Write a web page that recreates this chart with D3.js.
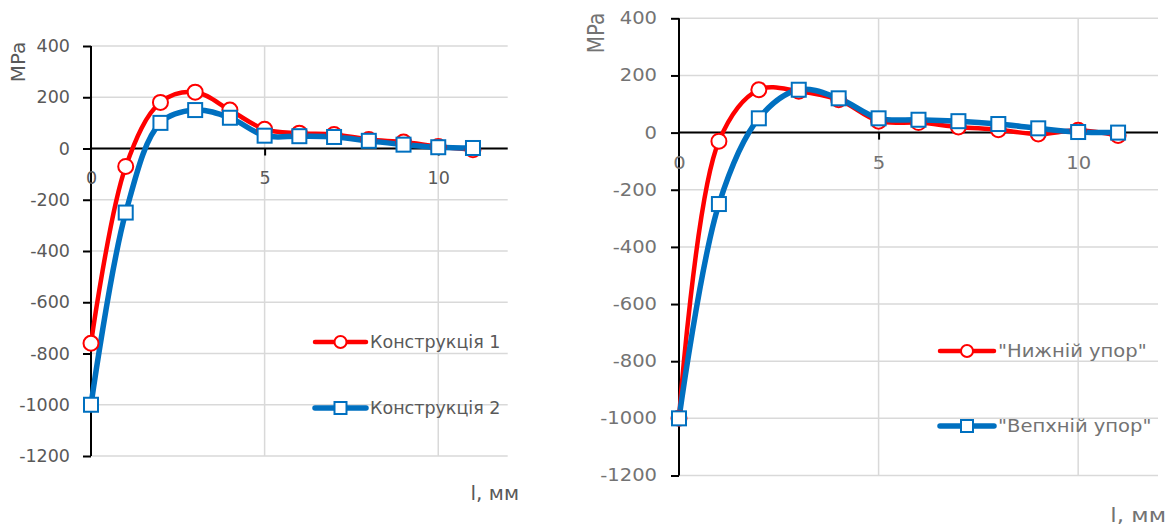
<!DOCTYPE html>
<html><head><meta charset="utf-8">
<script src="https://cdn.jsdelivr.net/npm/d3@7"></script>
<style>
html,body{margin:0;padding:0;background:#fff;}
svg{display:block;}
text{font-family:"DejaVu Sans",sans-serif;}
</style></head>
<body>
<script>
// ---- data ----
const xValues = [0,1,2,3,4,5,6,7,8,9,10,11];
const leftSeriesNames = ["Конструкція 1","Конструкція 2"];
const leftSeries1 = [-760,-70,180,220,150,75,60,55,35,25,8,-5];
const leftSeries2 = [-1000,-250,100,150,120,50,48,45,30,15,5,2];
const rightSeriesNames = ['"Нижній упор"','"Вепхній упор"'];
const rightSeries1 = [-1000,-30,150,145,115,40,35,20,10,-5,8,-10];
const rightSeries2 = [-1000,-250,50,150,120,50,45,40,30,15,2,0];
const yTicks = [-1200,-1000,-800,-600,-400,-200,0,200,400];
const xTickLabels = [0,5,10];
const yTitle = "MPa";
const xTitle = "l, мм";

const svg = d3.select("body").append("svg").attr("width",1173).attr("height",526);

function drawChart(cfg){
  const g = svg.append("g");
  const sx = cfg.sx || 1;
  const x = d3.scaleLinear().domain([0,12]).range([cfg.left,cfg.right]);
  const y = d3.scaleLinear().domain([-1200,400]).range([cfg.bottom,cfg.top]);
  const fmt = d => String(d);
  // gridlines
  g.selectAll(".hg").data(yTicks).enter().append("line")
    .attr("x1",cfg.left).attr("x2",cfg.right).attr("y1",d=>y(d)).attr("y2",d=>y(d))
    .attr("stroke","#d9d9d9").attr("stroke-width",1.5);
  g.selectAll(".vg").data(xTickLabels.filter(d=>d>0)).enter().append("line")
    .attr("x1",d=>x(d)).attr("x2",d=>x(d)).attr("y1",cfg.top).attr("y2",cfg.bottom)
    .attr("stroke","#d9d9d9").attr("stroke-width",1.5);
  // y axis
  const ya = g.append("g").attr("transform",`translate(${cfg.left},0)`)
    .call(d3.axisLeft(y).tickValues(yTicks).tickFormat(fmt).tickSize(8).tickPadding(cfg.ypad));
  ya.select(".domain").attr("stroke","#000").attr("stroke-width",2).attr("d",`M0,${cfg.top}V${cfg.bottom}`);
  ya.selectAll(".tick line").attr("stroke","#000").attr("stroke-width",2);
  ya.selectAll(".tick text").attr("fill",cfg.textColor).style("font-size",cfg.fs+"px")
    .attr("transform",`scale(${sx},1)`)
    .attr("x", -(8+cfg.ypad)/sx);
  // x axis at y=0
  const xa = g.append("g").attr("transform",`translate(0,${y(0)})`)
    .call(d3.axisBottom(x).tickValues(xTickLabels).tickFormat(fmt).tickSize(7).tickPadding(cfg.xpad));
  xa.select(".domain").attr("stroke","#000").attr("stroke-width",2).attr("d",`M${cfg.left},0H${cfg.right}`);
  xa.selectAll(".tick line").attr("stroke","#000").attr("stroke-width",2).attr("opacity",d=>d===0?0:1);
  xa.selectAll(".tick text").attr("fill",cfg.textColor).style("font-size",cfg.fs+"px")
    .attr("transform",`scale(${sx},1)`).attr("x",0);
  // lines
  const line = d3.line().x((d,i)=>x(xValues[i])).y(d=>y(d)).curve(d3.curveCatmullRom.alpha(0.5));
  const series = [
    {vals:cfg.s1,color:"#ff0000",w:4.5,shape:"circle"},
    {vals:cfg.s2,color:"#0070c0",w:5.5,shape:"square"}
  ];
  series.forEach(s=>{
    g.append("path").attr("d",line(s.vals)).attr("fill","none").attr("stroke",s.color)
      .attr("stroke-width",s.w).attr("stroke-linejoin","round");
  });
  function marker(sel,shape,color,size){
    if(shape==="circle"){
      sel.append("circle").attr("r",size/2).attr("fill","#fff").attr("stroke",color).attr("stroke-width",2);
    } else {
      sel.append("rect").attr("x",-size/2).attr("y",-size/2).attr("width",size).attr("height",size)
        .attr("fill","#fff").attr("stroke",color).attr("stroke-width",2);
    }
  }
  series.forEach(s=>{
    s.vals.forEach((v,i)=>{
      const m = g.append("g").attr("transform",`translate(${x(xValues[i])},${y(v)})`);
      marker(m,s.shape,s.color,s.shape==="circle"?cfg.msize:cfg.msize-1);
    });
  });
  // legend
  cfg.names.forEach((n,i)=>{
    const ly = cfg.legY[i];
    const s = series[i];
    g.append("line").attr("x1",cfg.legX).attr("x2",cfg.legX+cfg.legW).attr("y1",ly).attr("y2",ly)
      .attr("stroke",s.color).attr("stroke-width",s.w).attr("stroke-linecap","round");
    const m = g.append("g").attr("transform",`translate(${cfg.legX+cfg.legW/2},${ly})`);
    marker(m,s.shape,s.color,s.shape==="circle"?12:12);
    const tx = cfg.legX+cfg.legW+4;
    g.append("text").attr("x",0).attr("y",0).attr("dy","0.35em")
      .attr("fill",cfg.textColor).style("font-size",cfg.fs+"px")
      .attr("transform",`translate(${tx},${ly}) scale(${sx},1)`)
      .text(n);
  });
  // titles
  g.append("text").attr("transform",`translate(${cfg.yTitleX},${cfg.yTitleY}) rotate(-90) scale(1,${sx})`)
    .attr("text-anchor","middle").attr("dy","0.35em").attr("fill",cfg.textColor)
    .style("font-size",cfg.tfs+"px").text(yTitle);
  g.append("text").attr("transform",`translate(${cfg.xTitleX},${cfg.xTitleY}) scale(${sx},1)`)
    .attr("text-anchor","end").attr("dy","0.35em")
    .attr("fill",cfg.textColor).style("font-size",cfg.tfs+"px").text(xTitle);
}

drawChart({left:91,right:507.7,top:46,bottom:456,s1:leftSeries1,s2:leftSeries2,names:leftSeriesNames,
  fs:17.5,tfs:20,textColor:"#595959",ypad:13,xpad:16,msize:15,
  legX:315,legW:51,legY:[342,408],yTitleX:18,yTitleY:62,xTitleX:519,xTitleY:493});
drawChart({left:679,right:1158,top:18.3,bottom:475.5,s1:rightSeries1,s2:rightSeries2,names:rightSeriesNames,
  fs:17,tfs:20,textColor:"#737373",ypad:14,xpad:17,msize:15,sx:1.15,
  legX:940,legW:54,legY:[351,426],yTitleX:596,yTitleY:33,xTitleX:1166,xTitleY:515});
</script>
</body></html>
